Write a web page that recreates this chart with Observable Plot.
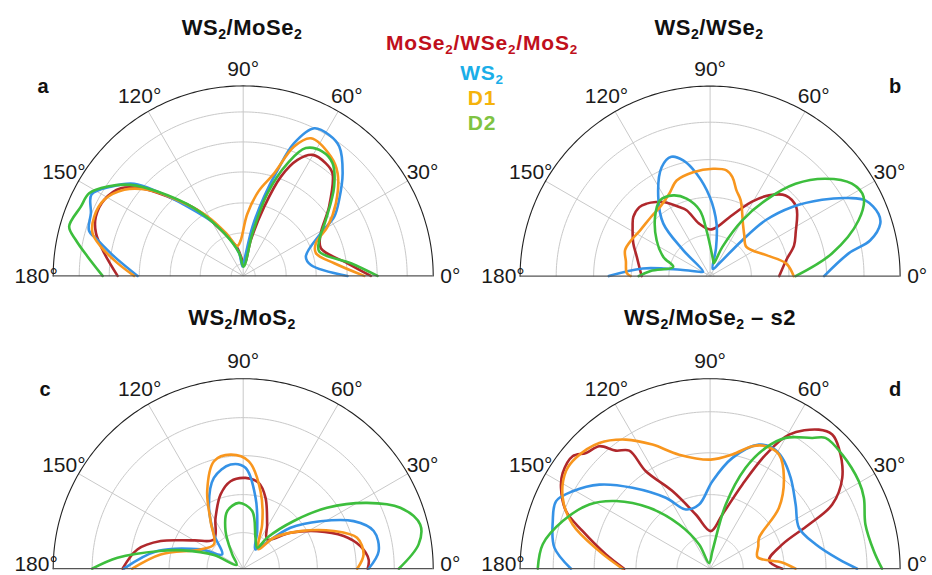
<!DOCTYPE html>
<html>
<head>
<meta charset="utf-8">
<script src="https://cdn.jsdelivr.net/npm/d3@7"></script>
<script src="https://cdn.jsdelivr.net/npm/@observablehq/plot@0.6"></script>
<style>
  html, body { margin: 0; padding: 0; background: #fff; }
  #fig { position: relative; width: 932px; height: 575px; overflow: hidden;
         font-family: "Liberation Sans", Arial, Helvetica, sans-serif; }
  .panel { position: absolute; }
  .lbl { position: absolute; white-space: nowrap; transform: translateX(-50%);
         font-weight: bold; line-height: 26px; }
  .title { font-size: 22px; letter-spacing: 0.5px; color: #111; }
  .leg { font-size: 21px; letter-spacing: 0.8px; }
  .letter { font-size: 20px; color: #111; }
  sub { font-size: 0.64em; vertical-align: baseline; position: relative; top: 0.3em; line-height: 0; }
</style>
</head>
<body>
<div id="fig"></div>
<script>
// ---------------- data ----------------
const seriesNames = ["MoSe2/WSe2/MoS2", "WS2", "D1", "D2"];
const curveColors = ["#b0282c", "#3592e6", "#f8961e", "#3dbe3d"];
const legendColors = ["#c0101c", "#1aaee8", "#f5b30c", "#7fc342"];
const angleTicks = [0, 30, 60, 90, 120, 150, 180];
const spokeAngles = [30, 60, 90, 120, 150];

// radial grid rings (fraction of the outer radius)
const ringsA = [0.063, 0.226, 0.384, 0.547, 0.705, 0.863];
const ringsB = [0.02, 0.217, 0.415, 0.613, 0.81];
const ringsC = [0.19, 0.39, 0.595, 0.795];
const ringsD = [0.174, 0.39, 0.61, 0.826];

// curves: [angle in degrees, normalized intensity]
// panel a  WS2/MoSe2
const aRed = [[0,.672],[6.9,.553],[19.6,.434],[28.8,.466],[38.9,.581],[49,.716],[53.7,.735],[60.2,.734],[64.9,.674],[69.2,.559],[73.1,.381],[78,.194],[85,.067],[102,.152],[115.9,.269],[124.7,.422],[133.6,.577],[139.4,.709],[144.4,.792],[151.3,.834],[158.1,.836],[163.8,.807],[170.7,.741],[180,.661]];
const aBlue = [[0,.549],[9.2,.361],[17.1,.345],[28.8,.466],[33.1,.572],[38.4,.644],[45.9,.752],[53.4,.848],[58.6,.869],[64.3,.862],[69,.748],[72,.586],[75.2,.432],[79.3,.264],[83.3,.12],[94,.05],[100,.121],[108.9,.2],[118.8,.316],[128.8,.468],[135.5,.633],[139.8,.751],[146,.84],[151.8,.906],[157.6,.867],[163.6,.846],[166.1,.79],[171.5,.686],[180,.556]];
const aOrange = [[0,.637],[7.9,.484],[17.3,.401],[24.2,.419],[30.3,.514],[38.1,.62],[47.4,.734],[53.7,.779],[63.8,.807],[68.5,.732],[73.2,.564],[79.6,.455],[86.3,.325],[94.4,.185],[101.3,.161],[111.7,.24],[121,.364],[130,.511],[138,.677],[144.1,.773],[151.3,.834],[158.3,.844],[164.2,.824],[168.4,.765],[174.2,.665],[180,.574]];
const aGreen = [[0,.707],[6.7,.571],[17.8,.42],[25.3,.443],[34.1,.525],[44.5,.671],[51.6,.757],[57.5,.776],[63.9,.749],[68.5,.637],[73.6,.454],[77.7,.23],[88,.049],[100,.121],[114,.246],[125.9,.44],[135.5,.633],[141,.761],[146.6,.855],[151.8,.92],[156.9,.929],[164.2,.952],[167.9,.901],[172.9,.826],[180,.74]];

// panel b  WS2/WSe2
const bRed = [[0,.364],[11.8,.409],[20,.47],[26.9,.505],[38.7,.581],[46.9,.581],[53.9,.526],[60.6,.45],[71.6,.328],[80,.27],[90,.245],[101.8,.282],[109.7,.368],[114.1,.398],[122.3,.461],[126.2,.483],[131.2,.507],[135.7,.52],[142.4,.51],[147.6,.483],[157,.439],[165,.4],[175,.37],[180,.36]];
const bBlue = [[0,.6],[9.3,.739],[12.6,.864],[17.1,.937],[20.3,.945],[26,.909],[29.4,.837],[34.3,.713],[40.1,.565],[45.2,.414],[48.1,.254],[54.6,.081],[70,.04],[78,.15],[83,.278],[90.2,.416],[97.5,.543],[103.1,.625],[108,.66],[114,.627],[123.3,.497],[131.7,.37],[136,.197],[148,.043],[158,.062],[168,.16],[173.5,.357],[180,.533]];
const bOrange = [[0,.44],[9.4,.406],[20.4,.316],[38.8,.245],[50,.28],[58,.326],[68,.43],[72.9,.472],[77.3,.534],[81.2,.563],[88.4,.565],[99.3,.554],[109.3,.533],[116.4,.484],[126,.449],[135,.44],[146.8,.44],[155,.455],[163,.468],[170,.45],[178,.439],[180,.418]];
const bGreen = [[0,.45],[10.5,.652],[20.6,.835],[27.3,.909],[33.1,.891],[40.2,.794],[47.2,.662],[53.8,.494],[60,.339],[67.2,.167],[74,.07],[79,.085],[94.5,.242],[98.9,.35],[106.9,.426],[114.5,.467],[123.5,.478],[133,.425],[146.1,.339],[157.7,.266],[166,.2],[175,.314],[180,.376]];

// panel c  WS2/MoS2
const cRed = [[0,.655],[4.2,.662],[10.9,.628],[18,.556],[27,.436],[37.3,.312],[50.7,.199],[61.6,.265],[72.5,.391],[79.7,.459],[88.5,.478],[98.2,.465],[107,.408],[118.5,.305],[135,.218],[150.1,.299],[161.5,.458],[169.7,.566],[180,.635]];
const cBlue = [[0,.66],[7.4,.719],[16.1,.715],[23.3,.633],[31.6,.477],[40.9,.329],[49.7,.168],[58,.12],[69.6,.211],[80.1,.379],[88.7,.531],[96.9,.552],[107.9,.502],[118.1,.383],[130.5,.237],[145.7,.134],[155.6,.246],[168.4,.461],[180,.628]];
const cOrange = [[0,.6],[6.8,.638],[15.2,.621],[22.6,.516],[33.3,.36],[45.3,.229],[52,.13],[60,.16],[66.8,.253],[77.4,.418],[87,.566],[96.3,.604],[105.2,.586],[114.9,.45],[124.4,.304],[140.3,.2],[155.6,.246],[170.2,.441],[180,.584]];
const cGreen = [[0,.819],[7.9,.932],[14,.96],[21.2,.887],[28,.738],[36,.545],[43.3,.366],[52.3,.206],[56.3,.133],[68.3,.175],[81.1,.307],[93.8,.347],[105.5,.314],[115.1,.219],[127.5,.095],[150,.04],[155,.17],[163,.33],[168,.45],[175,.664],[180,.795]];

// panel d  WS2/MoSe2 – s2
const dRed = [[0,.38],[8,.313],[18.6,.401],[24.1,.57],[27.7,.726],[34.5,.844],[43.2,.929],[47.7,.955],[52,.929],[59.5,.819],[64,.668],[69,.475],[77.2,.293],[89,.198],[104.8,.295],[115.9,.454],[123.4,.614],[124.4,.753],[128.6,.795],[132.1,.869],[137,.893],[140.7,.935],[147,.925],[151.5,.893],[158.2,.817],[163.6,.699],[172.2,.553],[180,.452]];
const dBlue = [[0,.774],[4.1,.68],[13,.57],[24.7,.515],[36.9,.563],[48.4,.639],[56.9,.696],[62.7,.715],[68.5,.702],[78.6,.595],[88.5,.461],[99.7,.343],[112.3,.337],[122,.44],[133.8,.59],[142.8,.732],[150.6,.83],[156.3,.885],[163.2,.865],[172.3,.827],[180,.732]];
const dOrange = [[0,.45],[5,.38],[13.7,.257],[25,.28],[32.3,.305],[41.5,.484],[50.9,.616],[58.9,.702],[65.6,.708],[71,.682],[79,.612],[89.7,.574],[105.2,.622],[114.9,.72],[123.1,.811],[131.4,.882],[140.4,.916],[145.9,.916],[154.3,.861],[162.2,.76],[171,.591],[180,.461]];
const dGreen = [[0,.905],[6.1,.867],[15.9,.85],[24.7,.891],[30.5,.908],[40.8,.919],[48.6,.918],[52,.873],[60,.795],[65.3,.7],[70.6,.563],[76.3,.348],[82.5,.094],[100,.03],[114.3,.14],[125,.284],[135,.453],[144.3,.61],[152,.72],[162.1,.815],[171.7,.89],[180,.907]];

const titlesHTML = ["WS<sub>2</sub>/MoSe<sub>2</sub>", "WS<sub>2</sub>/WSe<sub>2</sub>", "WS<sub>2</sub>/MoS<sub>2</sub>", "WS<sub>2</sub>/MoSe<sub>2</sub> – s2"];
const legendHTML = ["MoSe<sub>2</sub>/WSe<sub>2</sub>/MoS<sub>2</sub>", "WS<sub>2</sub>", "D1", "D2"];
const panelLetters = ["a", "b", "c", "d"];

// ---------------- layout ----------------
const R = 190;            // pixels per unit radius
const labelR = 1.09;      // radius of the angle labels
const rad = d => d * Math.PI / 180;

const panels = [
  {left: 0,   top: 0,   width: 466, height: 290, cx: 242.7, cy: 275.4, rings: ringsA, curves: [aRed, aBlue, aOrange, aGreen],
   title: [242, 15], letter: [43, 73], baseDy: 0},
  {left: 466, top: 0,   width: 466, height: 290, cx: 243.6, cy: 275.6, rings: ringsB, curves: [bRed, bBlue, bOrange, bGreen],
   title: [709, 15], letter: [895, 73], baseDy: 0},
  {left: 0,   top: 290, width: 466, height: 285, cx: 242.7, cy: 278.2, rings: ringsC, curves: [cRed, cBlue, cOrange, cGreen],
   title: [242, 305], letter: [45, 376], baseDy: -4},
  {left: 466, top: 290, width: 466, height: 285, cx: 243.6, cy: 278.2, rings: ringsD, curves: [dRed, dBlue, dOrange, dGreen],
   title: [710, 305], letter: [895, 376], baseDy: -4}
];

const fig = document.getElementById("fig");

function polar(deg, r) { return {x: r * Math.cos(rad(deg)), y: r * Math.sin(rad(deg))}; }

panels.forEach((p, pi) => {
  const curveRows = [];
  p.curves.forEach((pts, si) => pts.forEach(([deg, r]) => curveRows.push({series: seriesNames[si], ...polar(deg, r)})));
  const arcDeg = d3.range(0, 180.5, 1);
  const ringRows = [];
  p.rings.forEach((rr, i) => arcDeg.forEach(d => ringRows.push({ring: i, ...polar(d, rr)})));
  const outerRows = arcDeg.map(d => polar(d, 1));
  const spokeRows = spokeAngles.map(d => { const e = polar(d, 1); return {x1: 0, y1: 0, x2: e.x, y2: e.y}; });
  const sideTicks = angleTicks.filter(d => d === 0 || d === 180);
  const upperTicks = angleTicks.filter(d => d !== 0 && d !== 180);
  const sideRows = sideTicks.map(d => ({...polar(d, labelR), text: d + "°"}));
  const upperRows = upperTicks.map(d => ({...polar(d, labelR), text: d + "°"}));

  const svg = Plot.plot({
    width: p.width, height: p.height,
    marginTop: 0, marginRight: 0, marginBottom: 0, marginLeft: 0,
    x: {domain: [-p.cx / R, (p.width - p.cx) / R], axis: null},
    y: {domain: [-(p.height - p.cy) / R, p.cy / R], axis: null},
    color: {domain: seriesNames, range: curveColors},
    style: {background: "transparent", overflow: "visible", fontFamily: "'Liberation Sans', Arial, sans-serif"},
    marks: [
      Plot.line(ringRows, {x: "x", y: "y", z: "ring", stroke: "#c9c9c9", strokeWidth: 1}),
      Plot.link(spokeRows, {x1: "x1", y1: "y1", x2: "x2", y2: "y2", stroke: "#c9c9c9", strokeWidth: 1}),
      Plot.line(curveRows, {x: "x", y: "y", z: "series", stroke: "series", strokeWidth: 2.6, curve: "catmull-rom", strokeLinejoin: "round"}),
      Plot.line(outerRows, {x: "x", y: "y", stroke: "#222", strokeWidth: 1.1}),
      Plot.ruleY([0], {x1: -1, x2: 1, stroke: "#555", strokeWidth: 1.3}),
      Plot.text(upperRows, {x: "x", y: "y", text: "text", fontSize: 21, fill: "#1a1a1a"}),
      Plot.text(sideRows, {x: "x", y: "y", text: "text", fontSize: 21, fill: "#1a1a1a", dy: p.baseDy})
    ]
  });
  svg.classList.add("panel");
  svg.style.left = p.left + "px";
  svg.style.top = p.top + "px";
  fig.appendChild(svg);

  const t = document.createElement("div");
  t.className = "lbl title";
  t.style.left = p.title[0] + "px"; t.style.top = p.title[1] + "px";
  t.innerHTML = titlesHTML[pi];
  fig.appendChild(t);

  const l = document.createElement("div");
  l.className = "lbl letter";
  l.style.left = p.letter[0] + "px"; l.style.top = p.letter[1] + "px";
  l.textContent = panelLetters[pi];
  fig.appendChild(l);
});

// legend
const legendTops = [30, 60, 85, 110];
legendHTML.forEach((h, i) => {
  const d = document.createElement("div");
  d.className = "lbl leg";
  d.style.left = "482px"; d.style.top = legendTops[i] + "px";
  d.style.color = legendColors[i];
  d.innerHTML = h;
  fig.appendChild(d);
});
</script>
</body>
</html>
